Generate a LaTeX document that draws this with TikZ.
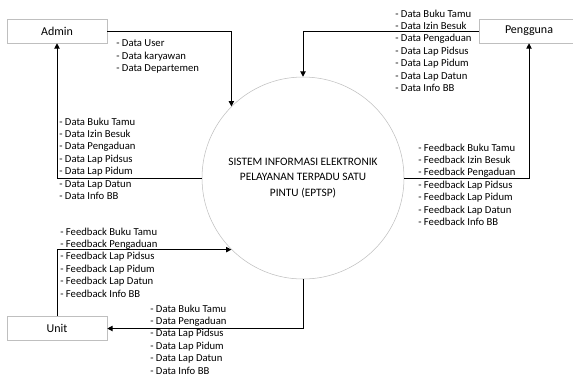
\documentclass[tikz,border=0pt]{standalone}
\usepackage{fontspec}
\setmainfont{Carlito}
\usetikzlibrary{arrows.meta}

\begin{document}
\begin{tikzpicture}[x=0.75pt, y=-0.75pt]
    % Define styles
    \tikzstyle{entity} = [draw=gray!50, rectangle, minimum width=75pt, minimum height=18pt, font=\fontsize{9}{11}\selectfont]
    \tikzstyle{process} = [draw=gray!50, circle, minimum size=151.5pt, inner sep=0pt, align=center, font=\fontsize{8.5}{11.6}\selectfont]
    \tikzstyle{items} = [anchor=north west, align=left, inner sep=0pt, font=\fontsize{8}{9.3}\selectfont]
    \tikzstyle{flow} = [-{Triangle[length=4pt, width=4pt]}, line width=0.75pt]

    \useasboundingbox (0,0) rectangle (573,380);

    % Nodes
    \node[entity] (admin) at (57, 31) {Admin};
    \node[entity] (pengguna) at (529, 31) {Pengguna};
    \node[entity] (unit) at (57, 328.5) {Unit};
    \node[process] (eptsp) at (303, 178) {SISTEM INFORMASI ELEKTRONIK\\PELAYANAN TERPADU SATU\\PINTU (EPTSP)};

    % Flow labels
    \node[items] (admin_data) at (116, 39.5) {- Data User\\- Data karyawan\\- Data Departemen};
    \node[items] (pengguna_data) at (395, 9.5) {- Data Buku Tamu\\- Data Izin Besuk\\- Data Pengaduan\\- Data Lap Pidsus\\- Data Lap Pidum\\- Data Lap Datun\\- Data Info BB};
    \node[items] (pengguna_feedback) at (418, 143.5) {- Feedback Buku Tamu\\- Feedback Izin Besuk\\- Feedback Pengaduan\\- Feedback Lap Pidsus\\- Feedback Lap Pidum\\- Feedback Lap Datun\\- Feedback Info BB};
    \node[items] (admin_report) at (59, 117.5) {- Data Buku Tamu\\- Data Izin Besuk\\- Data Pengaduan\\- Data Lap Pidsus\\- Data Lap Pidum\\- Data Lap Datun\\- Data Info BB};
    \node[items] (unit_feedback) at (60, 227.5) {- Feedback Buku Tamu\\- Feedback Pengaduan\\- Feedback Lap Pidsus\\- Feedback Lap Pidum\\- Feedback Lap Datun\\- Feedback Info BB};
    \node[items] (unit_data) at (150, 304.5) {- Data Buku Tamu\\- Data Pengaduan\\- Data Lap Pidsus\\- Data Lap Pidum\\- Data Lap Datun\\- Data Info BB};

    % Flow arrows
    \draw[flow] (admin.east) -| (eptsp.north west);
    \draw[flow] (pengguna.west) -| (eptsp.north);
    \draw[flow] (eptsp.east) -| (pengguna.south);
    \draw[flow] (eptsp.west) -| (admin.south);
    \draw[flow] (unit.north) |- (eptsp.south west);
    \draw[flow] (eptsp.south) |- (unit.east);
\end{tikzpicture}
\end{document}
